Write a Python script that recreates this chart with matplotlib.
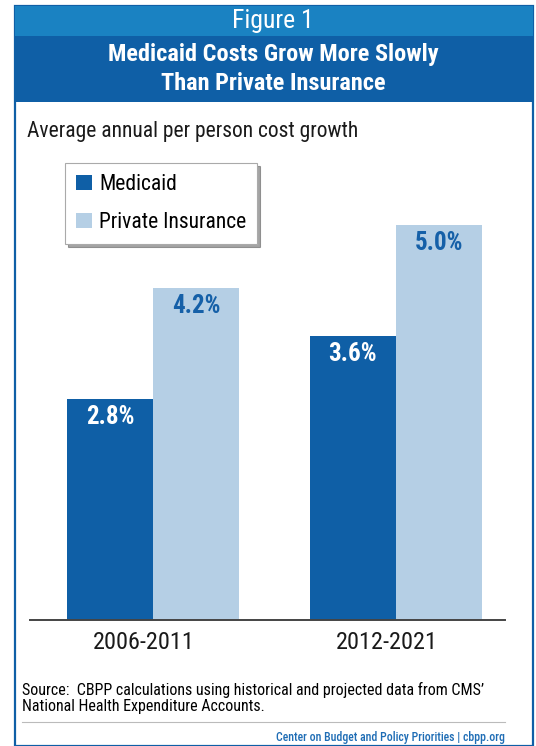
import matplotlib
matplotlib.use("Agg")
import matplotlib.pyplot as plt
from matplotlib.patches import Rectangle
from matplotlib.transforms import ScaledTranslation

plt.rcParams["font.family"] = ["DejaVu Sans Condensed", "Roboto Condensed", "Liberation Sans Narrow",
                               "Open Sans Condensed", "Roboto", "DejaVu Sans"]
plt.rcParams["font.stretch"] = "condensed"

periods = ["2006-2011", "2012-2021"]
medicaid = [2.8, 3.6]
private = [4.2, 5.0]
series_names = ["Medicaid", "Private Insurance"]

DARK = "#0f5fa6"
LIGHT = "#b5cfe5"
BAND = "#1a82c2"
W, H = 536, 746


def fx(x):
    return x / W


def fy(y):
    return 1 - y / H


fig = plt.figure(figsize=(W / 100, H / 100), dpi=100)

# frame and header bands
fig.patches.append(Rectangle((fx(15), fy(746)), fx(518), (746 - 6) / H, transform=fig.transFigure,
                             facecolor="white", edgecolor=DARK, linewidth=1.6, zorder=0))
fig.patches.append(Rectangle((fx(15), fy(36)), fx(518), 30 / H, transform=fig.transFigure,
                             facecolor=BAND, edgecolor="none", zorder=1))
fig.patches.append(Rectangle((fx(15), fy(102)), fx(518), 66 / H, transform=fig.transFigure,
                             facecolor=DARK, edgecolor="none", zorder=1))

fig.text(fx(273), fy(21), "Figure 1", color="white", fontsize=18.5, ha="center", va="center")
fig.text(fx(273), fy(55), "Medicaid Costs Grow More Slowly", color="white", fontsize=17.5,
         fontweight="bold", ha="center", va="center")
fig.text(fx(273), fy(83), "Than Private Insurance", color="white", fontsize=17.5,
         fontweight="bold", ha="center", va="center")
fig.text(fx(27), fy(132), "Average annual per person cost growth", color="#1a1a1a", fontsize=15.5,
         ha="left", va="center")

# bar chart
ax = fig.add_axes([fx(30), fy(620), fx(475), 5.4 * 79 / H])
ax.set_zorder(3)
ax.patch.set_visible(False)
x = range(len(periods))
width = 0.354
b1 = ax.bar([i - width / 2 for i in x], medicaid, width, color=DARK, label=series_names[0])
b2 = ax.bar([i + width / 2 for i in x], private, width, color=LIGHT, label=series_names[1])
ax.set_xlim(-0.506, 1.449)
ax.set_ylim(0, 5.4)
ax.set_yticks([])
for s in ["top", "left", "right"]:
    ax.spines[s].set_visible(False)
ax.spines["bottom"].set_color("#444444")
ax.spines["bottom"].set_linewidth(1.4)
ax.set_xticks(list(x))
ax.set_xticklabels(periods, fontsize=17.5, color="#1a1a1a")
ax.tick_params(axis="x", length=0, pad=8)
for lbl in ax.get_xticklabels():
    lbl.set_transform(lbl.get_transform() + ScaledTranslation(-9 / 100, 0, fig.dpi_scale_trans))

for bars, color in [(b1, "white"), (b2, "#1560a8")]:
    for bar in bars:
        ax.annotate(f"{bar.get_height():.1f}%", (bar.get_x() + bar.get_width() / 2, bar.get_height()),
                    xytext=(0, -13), textcoords="offset points", ha="center", va="center",
                    fontsize=18, fontweight="bold", color=color)

leg = ax.legend(loc="upper left", bbox_to_anchor=(fx(65), fy(163)), bbox_transform=fig.transFigure,
                fontsize=15.5, frameon=True, fancybox=False, shadow=True, edgecolor="#aaaaaa",
                handlelength=0.75, handleheight=0.7, handletextpad=0.35, labelspacing=0.8,
                borderpad=0.5, borderaxespad=0)
leg.get_frame().set_linewidth(0.8)

# source and footer
fig.text(fx(22), fy(690), "Source:  CBPP calculations using historical and projected data from CMS\u2019",
         fontsize=11.5, color="black", ha="left", va="center")
fig.text(fx(22), fy(706), "National Health Expenditure Accounts.", fontsize=11.5, color="black",
         ha="left", va="center")
fig.lines.append(plt.Line2D([fx(22), fx(505)], [fy(722), fy(722)], transform=fig.transFigure,
                            color="#bbbbbb", linewidth=0.8))
fig.text(fx(505), fy(737), "Center on Budget and Policy Priorities | cbpp.org", fontsize=8.5,
         fontweight="medium", color="#1f6db5", ha="right", va="center")

fig.savefig("out.png", dpi=100)
